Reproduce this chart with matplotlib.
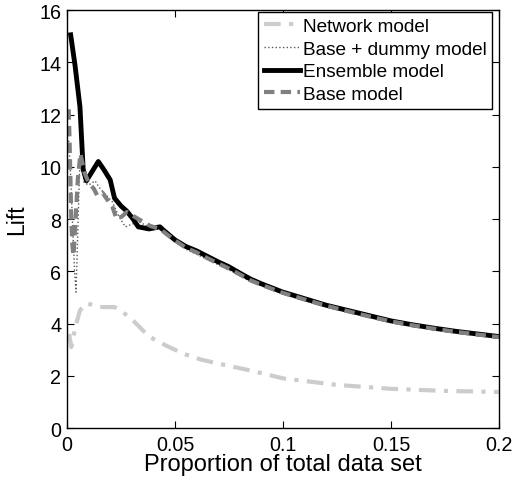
import matplotlib
matplotlib.use("Agg")
import matplotlib.pyplot as plt

plt.rcParams['font.family'] = ['Liberation Sans', 'DejaVu Sans']

# Network model
net_x = [0.001, 0.002, 0.004, 0.006, 0.009, 0.015, 0.022, 0.029, 0.038, 0.046, 0.054,
         0.062, 0.071, 0.085, 0.1, 0.125, 0.15, 0.175, 0.2]
net_y = [3.6, 3.1, 3.9, 4.5, 4.78, 4.63, 4.63, 4.25, 3.5, 3.15, 2.84,
         2.62, 2.45, 2.2, 1.9, 1.65, 1.5, 1.42, 1.38]

# Base + dummy model
dum_x = [0.0008, 0.0015, 0.0025, 0.0035, 0.0042, 0.005, 0.0058, 0.0065, 0.0079, 0.01,
         0.013, 0.015, 0.0176, 0.021, 0.024, 0.027, 0.03, 0.033, 0.038, 0.043, 0.049,
         0.055, 0.06, 0.065, 0.07, 0.075, 0.08, 0.085, 0.09, 0.1, 0.11, 0.12, 0.13,
         0.14, 0.15, 0.16, 0.17, 0.18, 0.19, 0.2]
dum_y = [11.0, 10.0, 8.0, 6.0, 5.2, 7.5, 9.8, 10.4, 9.4, 9.3,
         9.46, 9.2, 8.96, 8.66, 8.1, 7.7, 7.8, 7.9, 7.7, 7.6, 7.2,
         6.85, 6.65, 6.45, 6.25, 6.05, 5.83, 5.6, 5.45, 5.13, 4.88, 4.65, 4.45,
         4.25, 4.06, 3.91, 3.78, 3.66, 3.56, 3.47]

# Ensemble model
ens_x = [0.0017, 0.0037, 0.006, 0.007, 0.0075, 0.009, 0.0115, 0.0145, 0.017, 0.02,
         0.022, 0.025, 0.0277, 0.0306, 0.033, 0.038, 0.043, 0.045, 0.05, 0.055,
         0.06, 0.065, 0.07, 0.075, 0.08, 0.085, 0.09, 0.1, 0.11, 0.12, 0.13, 0.14,
         0.15, 0.16, 0.17, 0.18, 0.19, 0.2]
ens_y = [15.05, 13.9, 12.3, 10.7, 9.9, 9.46, 9.8, 10.2, 9.9, 9.5,
         8.8, 8.5, 8.3, 8.0, 7.7, 7.62, 7.7, 7.55, 7.2, 6.95,
         6.78, 6.57, 6.36, 6.17, 5.93, 5.7, 5.52, 5.2, 4.95, 4.7, 4.5, 4.3,
         4.1, 3.95, 3.82, 3.7, 3.6, 3.5]

# Base model
base_x = [0.0008, 0.0012, 0.0016, 0.002, 0.0025, 0.003, 0.004, 0.005, 0.0062, 0.007,
          0.008, 0.0095, 0.011, 0.0125, 0.014, 0.0165, 0.019, 0.021, 0.023, 0.0255,
          0.0277, 0.03, 0.033, 0.0384, 0.043, 0.049, 0.055, 0.06, 0.065, 0.07, 0.075,
          0.08, 0.085, 0.09, 0.1, 0.11, 0.12, 0.13, 0.14, 0.15, 0.16, 0.17, 0.18,
          0.19, 0.2]
base_y = [12.2, 11.0, 9.5, 8.0, 7.0, 6.6, 8.0, 9.5, 10.5, 10.2,
          9.8, 9.5, 9.3, 9.15, 8.9, 9.0, 8.7, 8.47, 8.0, 8.1,
          8.27, 8.15, 8.0, 7.74, 7.62, 7.24, 6.9, 6.72, 6.5, 6.3, 6.1,
          5.88, 5.65, 5.48, 5.17, 4.92, 4.68, 4.47, 4.27, 4.08, 3.93, 3.8, 3.68,
          3.58, 3.48]

xticks = [0, 0.05, 0.1, 0.15, 0.2]
xtick_labels = ['0', '0.05', '0.1', '0.15', '0.2']
yticks = [0, 2, 4, 6, 8, 10, 12, 14, 16]

fig = plt.figure(figsize=(5.18, 4.81), dpi=100)
ax = fig.add_axes([0.1293, 0.1081, 0.834, 0.869])

ax.plot(net_x, net_y, linestyle=(0, (4, 2, 1, 2)), color='0.8', lw=3, label='Network model')
ax.plot(dum_x, dum_y, linestyle=':', color='0.35', lw=1, label='Base + dummy model')
ax.plot(ens_x, ens_y, linestyle='-', color='black', lw=3.5, label='Ensemble model')
ax.plot(base_x, base_y, linestyle=(0, (2.5, 1.5)), color='0.5', lw=3, label='Base model')

ax.set_xlim(0, 0.2)
ax.set_ylim(0, 16)
ax.set_xticks(xticks)
ax.set_xticklabels(xtick_labels)
ax.set_yticks(yticks)
ax.tick_params(direction='in', top=True, right=True, labelsize=14.2, length=5, width=0.8)
ax.tick_params(axis='x', pad=5)
ax.tick_params(axis='y', pad=4)
for s in ax.spines.values():
    s.set_linewidth(1.0)

ax.set_xlabel('Proportion of total data set', fontsize=17, labelpad=-1)
ax.set_ylabel('Lift', fontsize=16.5, labelpad=8)

leg = ax.legend(loc='upper right', bbox_to_anchor=(0.984, 0.995), borderaxespad=0,
                fontsize=13.7, fancybox=False, frameon=True, framealpha=1,
                edgecolor='black', handlelength=1.9, handletextpad=0.15,
                labelspacing=0.28, borderpad=0.3)
leg.get_frame().set_linewidth(1.0)

fig.savefig('out.png', dpi=100)
